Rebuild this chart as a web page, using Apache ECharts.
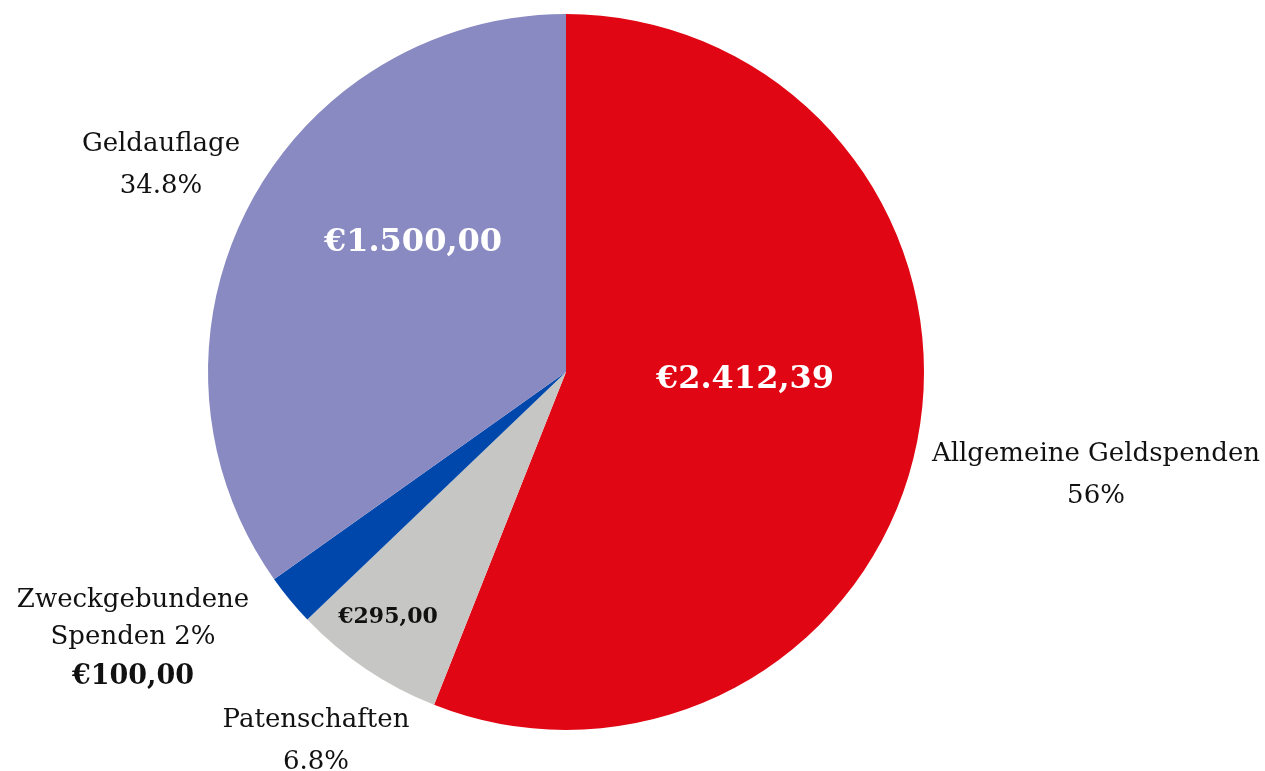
<!DOCTYPE html>
<html>
<head>
<meta charset="utf-8">
<script src="https://cdn.jsdelivr.net/npm/echarts@6/dist/echarts.min.js"></script>
<style>
  html, body { margin: 0; padding: 0; background: #fff; }
  #main { width: 1265px; height: 771px; }
</style>
</head>
<body>
<div id="main"></div>
<script>
// 数据
const names = ['Allgemeine Geldspenden', 'Patenschaften', 'Zweckgebundene Spenden', 'Geldauflage'];
const values = [2412.39, 295.00, 100.00, 1500.00];
const percents = ['56%', '6.8%', '2%', '34.8%'];
const colors = ['#E10613', '#C6C6C4', '#0047AB', '#8A8AC2'];

// 标签位置 (center of each text block)
const outerPos = [[1096, 475], [316, 741], [133, 640], [161, 165]];
const innerPos = [[745, 380], [388, 617], null, [413, 243]];

const FONT = '"DejaVu Serif", serif';

function euro(v){
  const parts = v.toFixed(2).split('.');
  const intPart = parts[0].replace(/\B(?=(\d{3})+(?!\d))/g, '.');
  return '€' + intPart + ',' + parts[1];
}

const chart = echarts.init(document.getElementById('main'));

const outerData = names.map(function(n, i){
  let fmt = n + '\n' + percents[i];
  if (i === 2) fmt = '{n|Zweckgebundene}\n{n|Spenden ' + percents[i] + '}\n{b|' + euro(values[i]) + '}';
  return {
    name: n, value: values[i],
    itemStyle: { color: colors[i] },
    label: { formatter: fmt }
  };
});

const innerData = names.map(function(n, i){
  const big = i === 0 || i === 3;
  return {
    name: n, value: values[i],
    itemStyle: { color: 'rgba(0,0,0,0)' },
    label: {
      show: innerPos[i] !== null,
      formatter: euro(values[i]),
      color: big ? '#fff' : '#111',
      fontSize: big ? 32 : 22,
      fontWeight: 'bold'
    }
  };
});

const option = {
  animation: false,
  series: [
    {
      type: 'pie',
      center: [566, 372],
      radius: [0, 358],
      startAngle: 90,
      clockwise: true,
      silent: true,
      itemStyle: { borderWidth: 0 },
      labelLine: { show: false },
      label: {
        show: true,
        position: 'outside',
        overflow: 'none',
        width: 400,
        fontFamily: FONT,
        fontSize: 26,
        color: '#111',
        lineHeight: 42,
        align: 'center',
        rich: {
          n: { fontFamily: FONT, fontSize: 26, color: '#111', lineHeight: 37 },
          b: { fontFamily: FONT, fontSize: 27, fontWeight: 'bold', color: '#111', lineHeight: 42 }
        }
      },
      labelLayout: function(p){
        const pos = outerPos[p.dataIndex];
        return { x: pos[0], y: pos[1], align: 'center', verticalAlign: 'middle' };
      },
      data: outerData
    },
    {
      type: 'pie',
      center: [566, 372],
      radius: [0, 358],
      startAngle: 90,
      clockwise: true,
      silent: true,
      itemStyle: { borderWidth: 0 },
      labelLine: { show: false },
      label: { show: true, position: 'inside', fontFamily: FONT },
      labelLayout: function(p){
        const pos = innerPos[p.dataIndex];
        if (!pos) return {};
        return { x: pos[0], y: pos[1], align: 'center', verticalAlign: 'middle' };
      },
      data: innerData
    }
  ]
};

chart.setOption(option);
</script>
</body>
</html>
